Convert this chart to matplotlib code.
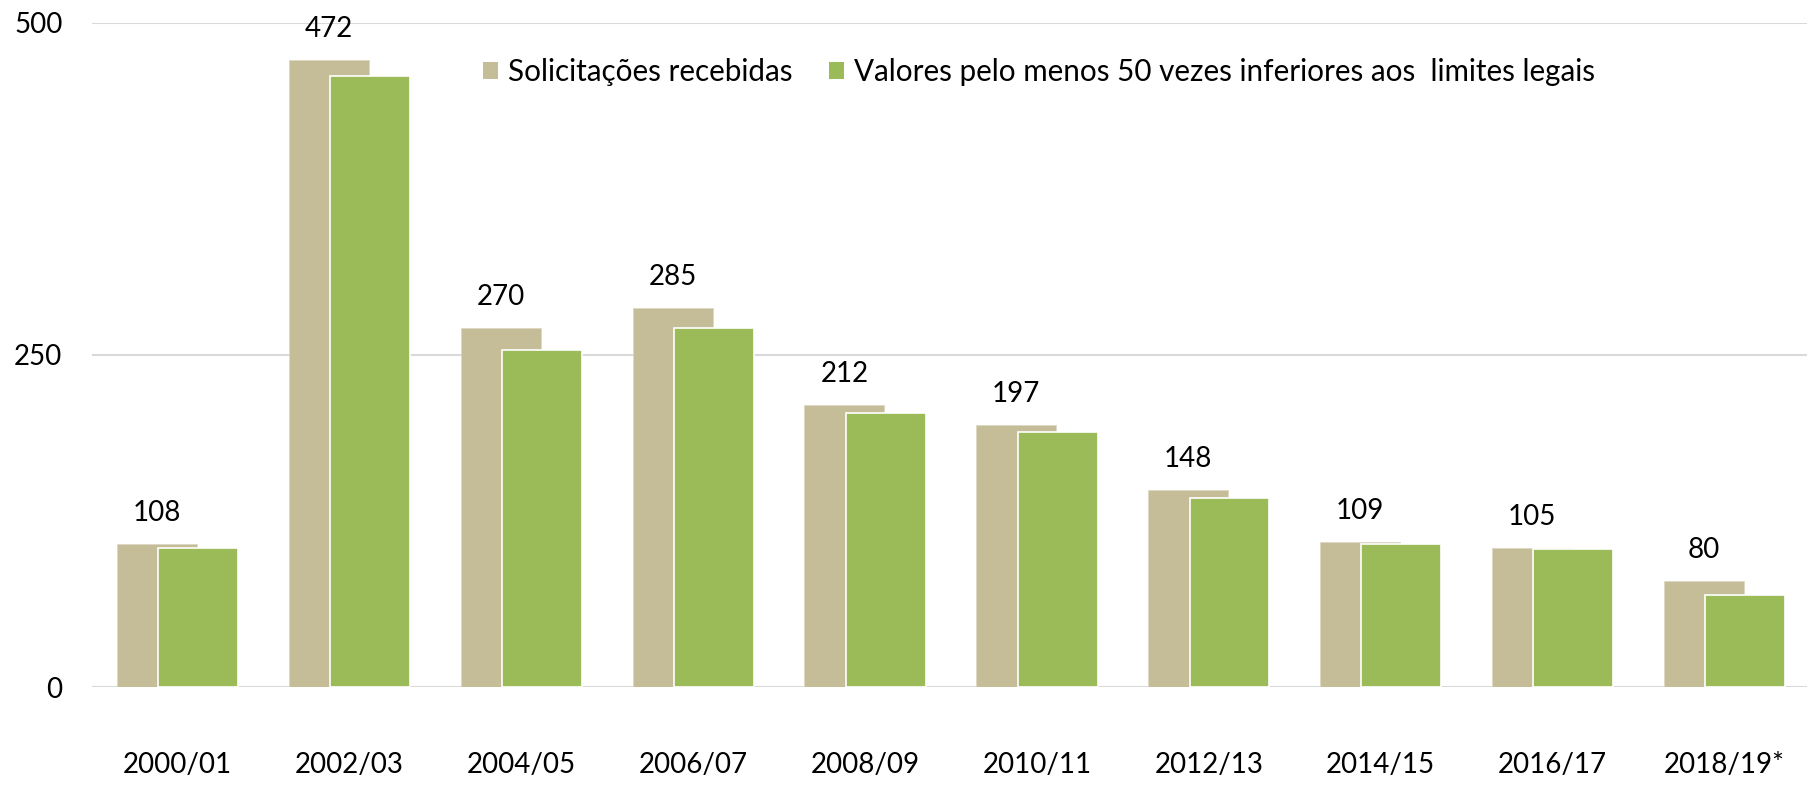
import matplotlib
matplotlib.use("Agg")
import matplotlib.pyplot as plt
import numpy as np

categories = ["2000/01", "2002/03", "2004/05", "2006/07", "2008/09",
              "2010/11", "2012/13", "2014/15", "2016/17", "2018/19*"]
solicitacoes = [108, 472, 270, 285, 212, 197, 148, 109, 105, 80]
valores_inferiores = [105, 460, 254, 270, 206, 192, 142, 108, 104, 69]
series_names = ["Solicitações recebidas",
                "Valores pelo menos 50 vezes inferiores aos  limites legais"]
y_ticks = [0, 250, 500]

TAN = "#C4BD97"
GREEN = "#9BBB59"

plt.rcParams['font.family'] = ['Lato', 'DejaVu Sans']
FS = 20
FS_LEG = 21.3

fig = plt.figure(figsize=(18.07, 7.85), dpi=100)
ax = fig.add_axes([0.0507, 0.1248, 1 - 0.0507, 0.9711 - 0.1248])

x = np.arange(len(categories))
w = 0.465
b1 = ax.bar(x - 0.12, solicitacoes, width=w, color=TAN, edgecolor="#ddd8c4",
            linewidth=0.6, label=series_names[0], zorder=2)
b2 = ax.bar(x + 0.12, valores_inferiores, width=w, color=GREEN, edgecolor="white",
            linewidth=1.2, label=series_names[1], zorder=3)

for xi, v in zip(x - 0.12, solicitacoes):
    ax.annotate(str(v), (xi, v), xytext=(0, 22.3), textcoords="offset points",
                ha="center", va="center", fontsize=FS, color="black")

ax.set_xlim(-0.5, 9.48)
ax.set_ylim(0, 500)
ax.set_yticks(y_ticks)
ax.set_yticklabels([str(t) for t in y_ticks], fontsize=FS)
ax.set_xticks(x)
ax.set_xticklabels(categories, fontsize=FS)
ax.tick_params(axis="y", length=0, pad=21)
ax.tick_params(axis="x", length=0, pad=46.5)
ax.yaxis.grid(True, color="#d9d9d9", linewidth=1.5)
ax.set_axisbelow(True)
for s in ax.spines.values():
    s.set_visible(False)

leg = fig.legend(handles=[b1, b2], labels=series_names, loc="center left",
                 bbox_to_anchor=(483 / 1807, 1 - 71.7 / 785), ncol=2, frameon=False,
                 fontsize=FS_LEG, handlelength=0.5, handleheight=0.5,
                 handletextpad=0.33, columnspacing=1.25, borderpad=0, borderaxespad=0)
for h in leg.legend_handles:
    h.set_edgecolor("none")

fig.savefig("out.png", dpi=100)
